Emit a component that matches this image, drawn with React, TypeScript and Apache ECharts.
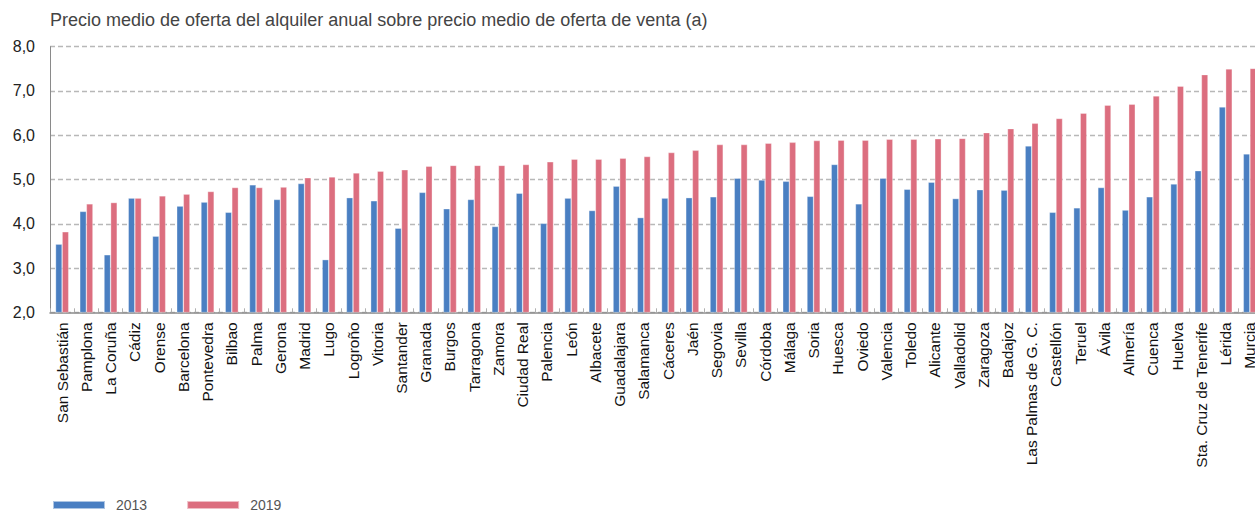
import React, { useEffect, useRef } from "react";
import * as echarts from "echarts";

const categories = [
  "San Sebastián", "Pamplona", "La Coruña", "Cádiz", "Orense", "Barcelona", "Pontevedra", "Bilbao",
  "Palma", "Gerona", "Madrid", "Lugo", "Logroño", "Vitoria", "Santander", "Granada", "Burgos",
  "Tarragona", "Zamora", "Ciudad Real", "Palencia", "León", "Albacete", "Guadalajara", "Salamanca",
  "Cáceres", "Jaén", "Segovia", "Sevilla", "Córdoba", "Málaga", "Soria", "Huesca", "Oviedo",
  "Valencia", "Toledo", "Alicante", "Valladolid", "Zaragoza", "Badajoz", "Las Palmas de G. C.",
  "Castellón", "Teruel", "Ávila", "Almería", "Cuenca", "Huelva", "Sta. Cruz de Tenerife", "Lérida", "Murcia",
];

const values2013 = [
  3.54, 4.28, 3.30, 4.58, 3.72, 4.40, 4.49, 4.26, 4.88, 4.55, 4.91, 3.19, 4.59, 4.52, 3.90, 4.71, 4.34,
  4.55, 3.94, 4.69, 4.01, 4.58, 4.30, 4.85, 4.14, 4.58, 4.59, 4.61, 5.03, 4.99, 4.96, 4.62, 5.34, 4.45,
  5.03, 4.78, 4.94, 4.57, 4.77, 4.76, 5.76, 4.26, 4.36, 4.82, 4.31, 4.61, 4.90, 5.20, 6.64, 5.58,
];

const values2019 = [
  3.82, 4.45, 4.48, 4.58, 4.63, 4.67, 4.73, 4.82, 4.82, 4.83, 5.04, 5.06, 5.15, 5.19, 5.22, 5.30, 5.32,
  5.32, 5.32, 5.34, 5.40, 5.46, 5.46, 5.48, 5.52, 5.61, 5.66, 5.79, 5.79, 5.82, 5.84, 5.88, 5.89, 5.89,
  5.91, 5.91, 5.92, 5.93, 6.06, 6.15, 6.27, 6.38, 6.50, 6.68, 6.70, 6.89, 7.11, 7.37, 7.50, 7.51,
];

const seriesNames = ["2013", "2019"];
const titleText = "Precio medio de oferta del alquiler anual sobre precio medio de oferta de venta (a)";

const FONT = "'Liberation Sans', Arial, Helvetica, sans-serif";

export default function App() {
  const ref = useRef<HTMLDivElement>(null);

  useEffect(() => {
    if (!ref.current) return;
    const chart = echarts.init(ref.current, undefined, { renderer: "svg" });
    chart.setOption({
      animation: false,
      backgroundColor: "#ffffff",
      title: {
        text: titleText,
        left: 45,
        top: 6,
        textStyle: { fontFamily: FONT, fontSize: 18, fontWeight: "normal", color: "#444444" },
      },
      legend: {
        left: 52,
        top: 498,
        padding: 0,
        itemWidth: 52,
        itemHeight: 8,
        itemGap: 39,
        icon: "rect",
        textStyle: { fontFamily: FONT, fontSize: 14, color: "#555555", padding: [0, 0, 0, 6] },
        data: seriesNames,
      },
      grid: { left: 50, top: 46.7, width: 1212, height: 265.6, containLabel: false },
      xAxis: {
        type: "category",
        data: categories,
        axisLine: { show: true, lineStyle: { color: "#8a8a8a", width: 1.5 } },
        axisTick: { show: true, inside: true, length: 4, lineStyle: { color: "#b0b0b0", width: 1 } },
        axisLabel: {
          interval: 0,
          rotate: 90,
          margin: 10,
          fontFamily: FONT,
          fontSize: 15.5,
          color: "#111111",
        },
      },
      yAxis: {
        type: "value",
        min: 2,
        max: 8,
        interval: 1,
        axisLine: { show: true, lineStyle: { color: "#8a8a8a", width: 1 } },
        axisTick: { show: false },
        axisLabel: {
          margin: 15,
          fontFamily: FONT,
          fontSize: 16,
          color: "#222222",
          formatter: (v: number) => v.toFixed(1).replace(".", ","),
        },
        splitLine: { show: true, lineStyle: { color: "#b8b8b8", width: 1.3, type: [5, 3] } },
      },
      series: [
        {
          name: seriesNames[0],
          type: "bar",
          data: values2013,
          barWidth: 6.6,
          barGap: "0%",
          itemStyle: { color: "#4a7fc2", borderColor: "rgba(255,255,255,0.55)", borderWidth: 0.6 },
        },
        {
          name: seriesNames[1],
          type: "bar",
          data: values2019,
          barWidth: 6.6,
          barGap: "0%",
          itemStyle: { color: "#dc6e7f", borderColor: "rgba(255,255,255,0.55)", borderWidth: 0.6 },
        },
      ],
    });
    return () => chart.dispose();
  }, []);

  return (
    <div
      style={{
        position: "fixed",
        left: 0,
        top: 0,
        width: 1255,
        height: 513,
        overflow: "hidden",
        background: "#ffffff",
      }}
    >
      <div ref={ref} style={{ width: 1275, height: 513 }} />
    </div>
  );
}
